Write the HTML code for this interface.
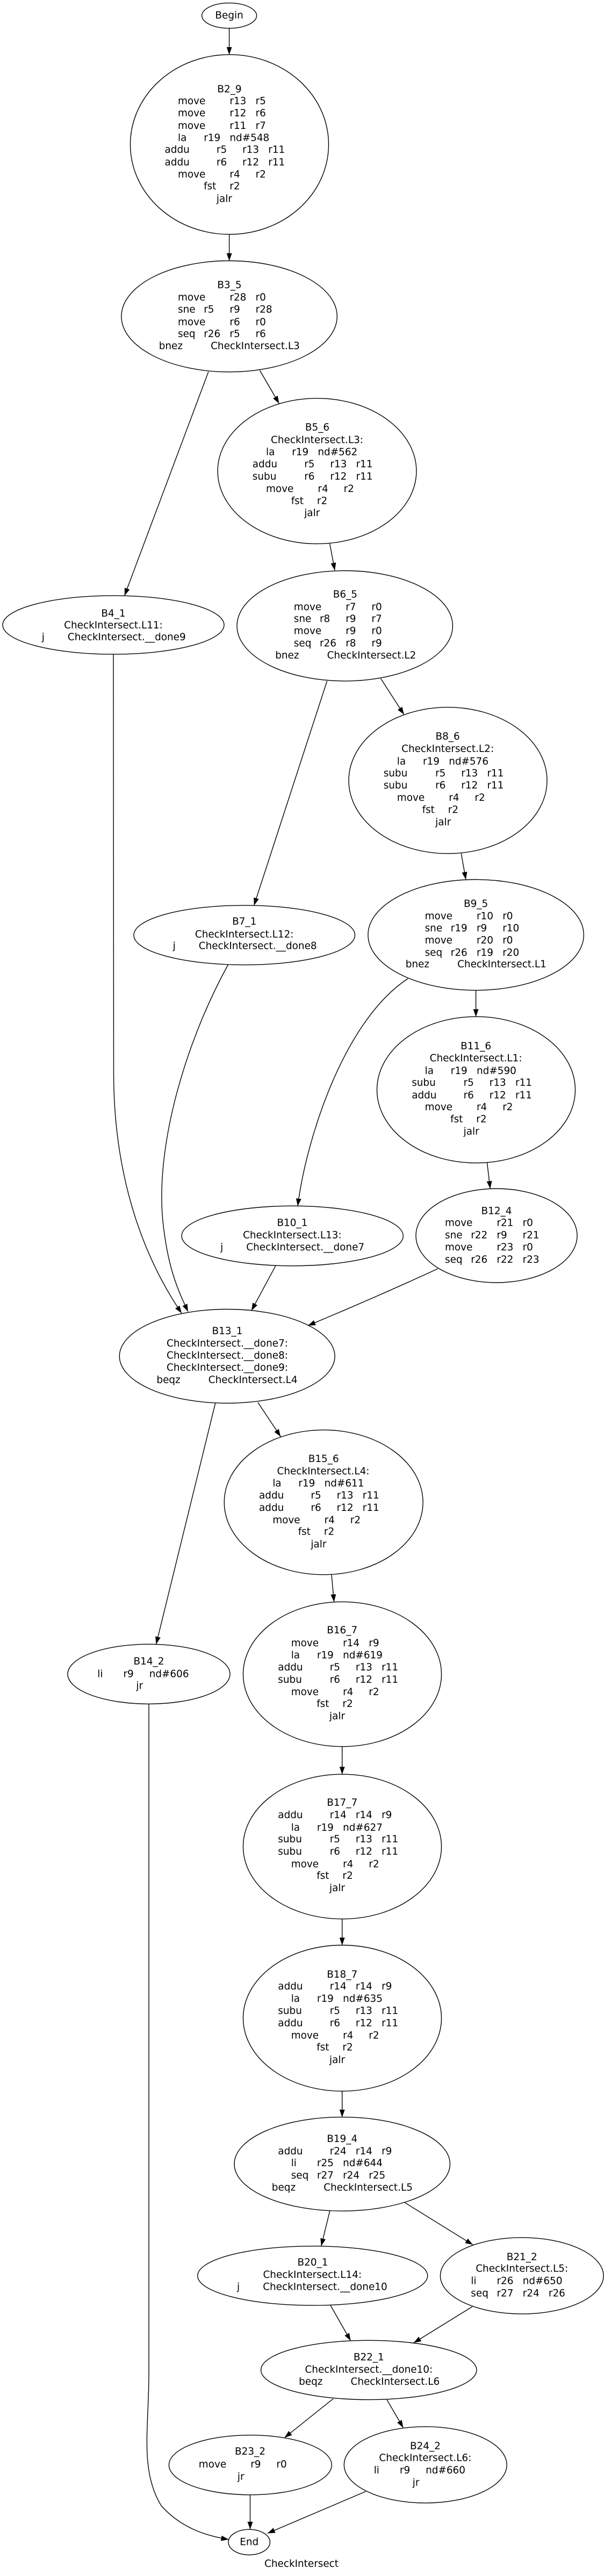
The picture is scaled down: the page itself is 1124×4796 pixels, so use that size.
<!DOCTYPE html>
<html><head><meta charset="utf-8"><style>
html,body{margin:0;padding:0;background:#fff;}
svg{display:block;}
text{font-family:"DejaVu Sans","Liberation Sans",sans-serif;font-size:18.4px;fill:#000;dominant-baseline:central;}
.c{text-anchor:middle;}
ellipse{fill:none;stroke:#000;stroke-width:1.4;}
path.e{fill:none;stroke:#000;stroke-width:1.4;marker-end:url(#ah);}
</style></head><body>
<svg width="1124" height="4796" viewBox="0 0 1124 4796" xmlns="http://www.w3.org/2000/svg">
<defs><marker id="ah" markerUnits="userSpaceOnUse" markerWidth="14" markerHeight="10" refX="14" refY="5" orient="auto"><path d="M0,0 L14,5 L0,10 z" fill="#000"/></marker></defs>

<ellipse cx="426.6" cy="29.1" rx="51" ry="23.5"/>
<text class="c" x="426.6" y="29.1">Begin</text>

<ellipse cx="427" cy="269" rx="184.5" ry="167.3"/>
<text class="c" x="427" y="166.5">B2_9</text>
<text x="331" y="188.7">move</text><text x="427.4" y="188.7">r13</text><text x="475.6" y="188.7">r5</text>
<text x="331" y="211.2">move</text><text x="427.4" y="211.2">r12</text><text x="475.6" y="211.2">r6</text>
<text x="331" y="234.3">move</text><text x="427.4" y="234.3">r11</text><text x="475.6" y="234.3">r7</text>
<text x="331" y="256.8">la</text><text x="379.2" y="256.8">r19</text><text x="427.4" y="256.8">nd#548</text>
<text x="306.5" y="279.2">addu</text><text x="402.9" y="279.2">r5</text><text x="451.1" y="279.2">r13</text><text x="499.3" y="279.2">r11</text>
<text x="306.5" y="302.3">addu</text><text x="402.9" y="302.3">r6</text><text x="451.1" y="302.3">r12</text><text x="499.3" y="302.3">r11</text>
<text x="331" y="324.8">move</text><text x="427.4" y="324.8">r4</text><text x="475.6" y="324.8">r2</text>
<text x="379.1" y="347.2">fst</text><text x="427.3" y="347.2">r2</text>
<text x="402.9" y="370.4">jalr</text>

<ellipse cx="426.6" cy="589" rx="200.7" ry="103.5"/>
<text class="c" x="427" y="531">B3_5</text>
<text x="331" y="554.2">move</text><text x="427.4" y="554.2">r28</text><text x="475.6" y="554.2">r0</text>
<text x="331" y="576.6">sne</text><text x="379.2" y="576.6">r5</text><text x="427.4" y="576.6">r9</text><text x="475.6" y="576.6">r28</text>
<text x="331" y="599.8">move</text><text x="427.4" y="599.8">r6</text><text x="475.6" y="599.8">r0</text>
<text x="331" y="622.2">seq</text><text x="379.2" y="622.2">r26</text><text x="427.4" y="622.2">r5</text><text x="475.6" y="622.2">r6</text>
<text x="295.7" y="644.7">bnez</text><text x="392.1" y="644.7">CheckIntersect.L3</text>

<ellipse cx="590" cy="877" rx="184.9" ry="135.4"/>
<text class="c" x="590.5" y="796.2">B5_6</text>
<text class="c" x="590" y="819.4">CheckIntersect.L3:</text>
<text x="495" y="841.8">la</text><text x="543.2" y="841.8">r19</text><text x="591.4" y="841.8">nd#562</text>
<text x="469.8" y="864.3">addu</text><text x="566.2" y="864.3">r5</text><text x="614.4" y="864.3">r13</text><text x="662.6" y="864.3">r11</text>
<text x="469.8" y="887.4">subu</text><text x="566.2" y="887.4">r6</text><text x="614.4" y="887.4">r12</text><text x="662.6" y="887.4">r11</text>
<text x="495" y="910.6">move</text><text x="591.4" y="910.6">r4</text><text x="639.6" y="910.6">r2</text>
<text x="541.7" y="933">fst</text><text x="589.9" y="933">r2</text>
<text x="566.2" y="955.5">jalr</text>

<ellipse cx="211" cy="1163.5" rx="206" ry="54.6"/>
<text class="c" x="211" y="1142.5">B4_1</text>
<text class="c" x="211" y="1164.3">CheckIntersect.L11:</text>
<text x="77.7" y="1186.6">j</text><text x="125.9" y="1186.6">CheckIntersect.__done9</text>

<ellipse cx="641.7" cy="1165.2" rx="200.7" ry="102.7"/>
<text class="c" x="642.4" y="1107">B6_5</text>
<text x="546.8" y="1130.4">move</text><text x="643.2" y="1130.4">r7</text><text x="691.4" y="1130.4">r0</text>
<text x="546.8" y="1152.7">sne</text><text x="595" y="1152.7">r8</text><text x="643.2" y="1152.7">r9</text><text x="691.4" y="1152.7">r7</text>
<text x="546.8" y="1175">move</text><text x="643.2" y="1175">r9</text><text x="691.4" y="1175">r0</text>
<text x="546.8" y="1198.2">seq</text><text x="595" y="1198.2">r26</text><text x="643.2" y="1198.2">r8</text><text x="691.4" y="1198.2">r9</text>
<text x="512.2" y="1220.5">bnez</text><text x="608.6" y="1220.5">CheckIntersect.L2</text>

<ellipse cx="833.5" cy="1453" rx="184.5" ry="136.2"/>
<text class="c" x="833.1" y="1371.4">B8_6</text>
<text class="c" x="833.1" y="1394.6">CheckIntersect.L2:</text>
<text x="738.8" y="1417.9">la</text><text x="787" y="1417.9">r19</text><text x="835.2" y="1417.9">nd#576</text>
<text x="713.7" y="1440">subu</text><text x="810.1" y="1440">r5</text><text x="858.3" y="1440">r13</text><text x="906.5" y="1440">r11</text>
<text x="713.7" y="1462.5">subu</text><text x="810.1" y="1462.5">r6</text><text x="858.3" y="1462.5">r12</text><text x="906.5" y="1462.5">r11</text>
<text x="738.8" y="1485.7">move</text><text x="835.2" y="1485.7">r4</text><text x="883.4" y="1485.7">r2</text>
<text x="785.6" y="1508">fst</text><text x="833.8" y="1508">r2</text>
<text x="810.1" y="1531">jalr</text>

<ellipse cx="454.7" cy="1741" rx="205.8" ry="55.4"/>
<text class="c" x="454.7" y="1716">B7_1</text>
<text class="c" x="454.7" y="1740">CheckIntersect.L12:</text>
<text x="321.6" y="1761.6">j</text><text x="369.8" y="1761.6">CheckIntersect.__done8</text>

<ellipse cx="885.6" cy="1740.6" rx="200.7" ry="103.1"/>
<text class="c" x="885.6" y="1683">B9_5</text>
<text x="790.6" y="1706">move</text><text x="887" y="1706">r10</text><text x="935.2" y="1706">r0</text>
<text x="790.6" y="1728.6">sne</text><text x="838.8" y="1728.6">r19</text><text x="887" y="1728.6">r9</text><text x="935.2" y="1728.6">r10</text>
<text x="790.6" y="1751">move</text><text x="887" y="1751">r20</text><text x="935.2" y="1751">r0</text>
<text x="790.6" y="1774">seq</text><text x="838.8" y="1774">r26</text><text x="887" y="1774">r19</text><text x="935.2" y="1774">r20</text>
<text x="754.7" y="1795.5">bnez</text><text x="851.1" y="1795.5">CheckIntersect.L1</text>

<ellipse cx="886" cy="2029" rx="184.5" ry="136.2"/>
<text class="c" x="885.6" y="1948">B11_6</text>
<text class="c" x="885.6" y="1970.5">CheckIntersect.L1:</text>
<text x="790.6" y="1993.8">la</text><text x="838.8" y="1993.8">r19</text><text x="887" y="1993.8">nd#590</text>
<text x="766.2" y="2016">subu</text><text x="862.6" y="2016">r5</text><text x="910.8" y="2016">r13</text><text x="959" y="2016">r11</text>
<text x="766.2" y="2039.3">addu</text><text x="862.6" y="2039.3">r6</text><text x="910.8" y="2039.3">r12</text><text x="959" y="2039.3">r11</text>
<text x="790.6" y="2061.6">move</text><text x="887" y="2061.6">r4</text><text x="935.2" y="2061.6">r2</text>
<text x="838.1" y="2084">fst</text><text x="886.3" y="2084">r2</text>
<text x="862.6" y="2107">jalr</text>

<ellipse cx="544.2" cy="2301" rx="206.1" ry="55.8"/>
<text class="c" x="543.9" y="2276.8">B10_1</text>
<text class="c" x="543.9" y="2300">CheckIntersect.L13:</text>
<text x="410.1" y="2322.3">j</text><text x="458.3" y="2322.3">CheckIntersect.__done7</text>

<ellipse cx="924" cy="2300.5" rx="150" ry="87.5"/>
<text class="c" x="924" y="2255">B12_4</text>
<text x="828" y="2277">move</text><text x="924.4" y="2277">r21</text><text x="972.6" y="2277">r0</text>
<text x="828" y="2300">sne</text><text x="876.2" y="2300">r22</text><text x="924.4" y="2300">r9</text><text x="972.6" y="2300">r21</text>
<text x="828" y="2322.3">move</text><text x="924.4" y="2322.3">r23</text><text x="972.6" y="2322.3">r0</text>
<text x="828" y="2345.5">seq</text><text x="876.2" y="2345.5">r26</text><text x="924.4" y="2345.5">r22</text><text x="972.6" y="2345.5">r23</text>

<ellipse cx="422.7" cy="2525" rx="200.4" ry="87.5"/>
<text class="c" x="423" y="2478.3">B13_1</text>
<text class="c" x="423" y="2501.5">CheckIntersect.__done7:</text>
<text class="c" x="423" y="2523.9">CheckIntersect.__done8:</text>
<text class="c" x="423" y="2546.3">CheckIntersect.__done9:</text>
<text x="291.4" y="2569.5">beqz</text><text x="387.8" y="2569.5">CheckIntersect.L4</text>

<ellipse cx="602.2" cy="2797" rx="184.9" ry="134.7"/>
<text class="c" x="602.2" y="2716.3">B15_6</text>
<text class="c" x="601.5" y="2739.5">CheckIntersect.L4:</text>
<text x="507.2" y="2761.9">la</text><text x="555.4" y="2761.9">r19</text><text x="603.6" y="2761.9">nd#611</text>
<text x="482" y="2784.3">addu</text><text x="578.4" y="2784.3">r5</text><text x="626.6" y="2784.3">r13</text><text x="674.8" y="2784.3">r11</text>
<text x="482" y="2807.5">addu</text><text x="578.4" y="2807.5">r6</text><text x="626.6" y="2807.5">r12</text><text x="674.8" y="2807.5">r11</text>
<text x="507.2" y="2830.7">move</text><text x="603.6" y="2830.7">r4</text><text x="651.8" y="2830.7">r2</text>
<text x="554.7" y="2852.2">fst</text><text x="602.9" y="2852.2">r2</text>
<text x="578.4" y="2875.5">jalr</text>

<ellipse cx="277" cy="3116.8" rx="151" ry="55.6"/>
<text class="c" x="277" y="3093.5">B14_2</text>
<text x="181.3" y="3116.8">li</text><text x="229.5" y="3116.8">r9</text><text x="277.7" y="3116.8">nd#606</text>
<text class="c" x="259.7" y="3139">jr</text>

<ellipse cx="637" cy="3117" rx="184.5" ry="134.7"/>
<text class="c" x="636.7" y="3035.5">B16_7</text>
<text x="541.7" y="3059.5">move</text><text x="638.1" y="3059.5">r14</text><text x="686.3" y="3059.5">r9</text>
<text x="541.7" y="3082">la</text><text x="589.9" y="3082">r19</text><text x="638.1" y="3082">nd#619</text>
<text x="517.3" y="3104.3">addu</text><text x="613.7" y="3104.3">r5</text><text x="661.9" y="3104.3">r13</text><text x="710.1" y="3104.3">r11</text>
<text x="517.3" y="3127.5">subu</text><text x="613.7" y="3127.5">r6</text><text x="661.9" y="3127.5">r12</text><text x="710.1" y="3127.5">r11</text>
<text x="541.7" y="3150.7">move</text><text x="638.1" y="3150.7">r4</text><text x="686.3" y="3150.7">r2</text>
<text x="589.2" y="3172.3">fst</text><text x="637.4" y="3172.3">r2</text>
<text x="613" y="3195.5">jalr</text>

<ellipse cx="637" cy="3438" rx="184.5" ry="134.7"/>
<text class="c" x="636.7" y="3356.4">B17_7</text>
<text x="517.3" y="3379.6">addu</text><text x="613.7" y="3379.6">r14</text><text x="661.9" y="3379.6">r14</text><text x="710.1" y="3379.6">r9</text>
<text x="541.7" y="3402.8">la</text><text x="589.9" y="3402.8">r19</text><text x="638.1" y="3402.8">nd#627</text>
<text x="517.3" y="3424.4">subu</text><text x="613.7" y="3424.4">r5</text><text x="661.9" y="3424.4">r13</text><text x="710.1" y="3424.4">r11</text>
<text x="517.3" y="3447.6">subu</text><text x="613.7" y="3447.6">r6</text><text x="661.9" y="3447.6">r12</text><text x="710.1" y="3447.6">r11</text>
<text x="541.7" y="3470.8">move</text><text x="638.1" y="3470.8">r4</text><text x="686.3" y="3470.8">r2</text>
<text x="589.2" y="3492.4">fst</text><text x="637.4" y="3492.4">r2</text>
<text x="613" y="3515.6">jalr</text>

<ellipse cx="637" cy="3757.4" rx="184.5" ry="135.9"/>
<text class="c" x="636.7" y="3676.3">B18_7</text>
<text x="517.3" y="3698.6">addu</text><text x="613.7" y="3698.6">r14</text><text x="661.9" y="3698.6">r14</text><text x="710.1" y="3698.6">r9</text>
<text x="541.7" y="3721.6">la</text><text x="589.9" y="3721.6">r19</text><text x="638.1" y="3721.6">nd#635</text>
<text x="517.3" y="3743.9">subu</text><text x="613.7" y="3743.9">r5</text><text x="661.9" y="3743.9">r13</text><text x="710.1" y="3743.9">r11</text>
<text x="517.3" y="3767">addu</text><text x="613.7" y="3767">r6</text><text x="661.9" y="3767">r12</text><text x="710.1" y="3767">r11</text>
<text x="541.7" y="3790">move</text><text x="638.1" y="3790">r4</text><text x="686.3" y="3790">r2</text>
<text x="589.2" y="3812.2">fst</text><text x="637.4" y="3812.2">r2</text>
<text x="613" y="3835.3">jalr</text>

<ellipse cx="636.7" cy="4029" rx="200.7" ry="87.4"/>
<text class="c" x="636.7" y="3982.3">B19_4</text>
<text x="517.3" y="4005.3">addu</text><text x="613.7" y="4005.3">r24</text><text x="661.9" y="4005.3">r14</text><text x="710.1" y="4005.3">r9</text>
<text x="541.7" y="4027.6">li</text><text x="589.9" y="4027.6">r25</text><text x="638.1" y="4027.6">nd#644</text>
<text x="541.7" y="4050.6">seq</text><text x="589.9" y="4050.6">r27</text><text x="638.1" y="4050.6">r24</text><text x="686.3" y="4050.6">r25</text>
<text x="505.8" y="4072.8">beqz</text><text x="602.2" y="4072.8">CheckIntersect.L5</text>

<ellipse cx="581.7" cy="4237" rx="214" ry="55.2"/>
<text class="c" x="582" y="4212.7">B20_1</text>
<text class="c" x="581.3" y="4235.7">CheckIntersect.L14:</text>
<text x="441" y="4258">j</text><text x="489.2" y="4258">CheckIntersect.__done10</text>

<ellipse cx="971.2" cy="4237" rx="151.8" ry="71.1"/>
<text class="c" x="971.2" y="4202.4">B21_2</text>
<text class="c" x="971.2" y="4223.8">CheckIntersect.L5:</text>
<text x="876.3" y="4246.9">li</text><text x="924.5" y="4246.9">r26</text><text x="972.7" y="4246.9">nd#650</text>
<text x="876.3" y="4270">seq</text><text x="924.5" y="4270">r27</text><text x="972.7" y="4270">r24</text><text x="1020.9" y="4270">r26</text>

<ellipse cx="686.3" cy="4412.5" rx="200.7" ry="55.2"/>
<text class="c" x="686.3" y="4389">B22_1</text>
<text class="c" x="686.3" y="4412">CheckIntersect.__done10:</text>
<text x="556.1" y="4434.4">beqz</text><text x="652.5" y="4434.4">CheckIntersect.L6</text>

<ellipse cx="465.8" cy="4589.3" rx="151.4" ry="55.6"/>
<text class="c" x="465.5" y="4564.7">B23_2</text>
<text x="369.8" y="4588.5">move</text><text x="466.2" y="4588.5">r9</text><text x="514.4" y="4588.5">r0</text>
<text class="c" x="448.2" y="4611.5">jr</text>

<ellipse cx="791.7" cy="4589" rx="151.4" ry="71.1"/>
<text class="c" x="791.4" y="4554.3">B24_2</text>
<text class="c" x="791.4" y="4576.6">CheckIntersect.L6:</text>
<text x="695.7" y="4599.6">li</text><text x="743.9" y="4599.6">r9</text><text x="792.1" y="4599.6">nd#660</text>
<text class="c" x="774.1" y="4622.7">jr</text>

<ellipse cx="463.7" cy="4733" rx="38.7" ry="23.7"/>
<text class="c" x="463.7" y="4733">End</text>
<text class="c" x="561" y="4773.5">CheckIntersect</text>

<path class="e" d="M426.6,52.6 L426.6,101.7"/>
<path class="e" d="M426.6,436 L426.6,485.5"/>
<path class="e" d="M483.5,689.6 L519.4,751.3"/>
<path class="e" d="M387.8,692.4 L231.7,1109"/>
<path class="e" d="M613.7,1012.3 L623,1062"/>
<path class="e" d="M708.6,1263.4 L751.8,1330.4"/>
<path class="e" d="M608.6,1267.9 L472.7,1685.7"/>
<path class="e" d="M858.3,1589.3 L866.9,1637.5"/>
<path class="e" d="M885.6,1843.8 L885.6,1892.9"/>
<path class="e" d="M906.5,2165 L912.2,2213"/>
<path class="e" d="M759,1822 C640,1900 570,2120 554,2245.5"/>
<path class="e" d="M211,1218 L211.5,2000 C212,2180 260,2330 338,2445"/>
<path class="e" d="M424.5,1796 C340,1950 285,2150 305,2290 C315,2370 335,2410 350,2442"/>
<path class="e" d="M513,2356.4 L468,2440"/>
<path class="e" d="M815,2362 Q700,2415 573,2468"/>
<path class="e" d="M479.9,2611 L522.3,2674.8"/>
<path class="e" d="M400.7,2612.6 L290.6,3061.2"/>
<path class="e" d="M617,2931.8 L621.6,2982.4"/>
<path class="e" d="M636.7,3252 L636.7,3303.3"/>
<path class="e" d="M636.7,3572.5 L636.7,3621.5"/>
<path class="e" d="M636.7,3893 L636.7,3941.7"/>
<path class="e" d="M613.7,4116.5 L597.8,4181.7"/>
<path class="e" d="M753.2,4100.7 L879.9,4179.3"/>
<path class="e" d="M615,4292 L652.5,4358"/>
<path class="e" d="M879,4294.5 L769.8,4362"/>
<path class="e" d="M620,4466 L529.5,4538.5"/>
<path class="e" d="M720,4467.8 L750.4,4520"/>
<path class="e" d="M465.5,4645 L465.5,4709"/>
<path class="e" d="M680.6,4638.6 L497.8,4716.5"/>
<path class="e" d="M277,3172.3 L277,4420 C277,4520 260,4600 300,4665 C340,4710 390,4722 425.5,4728"/>
</svg>
</body></html>
